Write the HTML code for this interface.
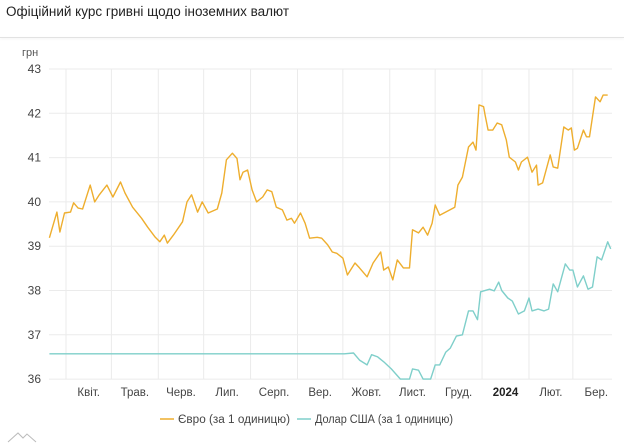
<!DOCTYPE html>
<html><head><meta charset="utf-8"><style>
body{margin:0;background:#fff;font-family:"Liberation Sans",sans-serif;}
#wrap{position:relative;width:624px;height:444px;overflow:hidden;}
#title{position:absolute;left:6px;top:4px;font-size:13.5px;color:#222;}
#sep{position:absolute;left:0;top:37px;width:624px;height:1px;background:#e2e2e2;box-shadow:0 1px 2px #eee;}
</style></head><body>
<div id="wrap">
<div id="title">Офіційний курс гривні щодо іноземних валют</div>
<div id="sep"></div>
<svg id="chart" width="624" height="444" style="position:absolute;left:0;top:0"></svg>
</div>
<script>
const yTicks=[36,37,38,39,40,41,42,43];
const monthLabels=["Квіт.","Трав.","Черв.","Лип.","Серп.","Вер.","Жовт.","Лист.","Груд.","2024","Лют.","Бер."];
const monthStarts=[0,30,61,91,122,153,183,214,244,275,306,335,366];
const eurDays=[-11,-6,-4,-1,3,5,8,11,16,19,22,27,31,36,39,44,50,54,59,62,65,67,71,77,80,83,87,90,94,100,103,106,110,113,115,117,120,123,126,130,133,136,139,143,146,149,151,155,158,161,166,169,173,176,179,183,186,191,194,199,203,208,210,213,216,219,223,227,229,233,236,239,242,244,247,257,259,262,266,269,271,273,276,277,279,282,285,288,291,293,297,299,301,305,308,311,312,315,320,322,325,329,332,334,336,338,342,344,346,350,353,355,358];
const eurValues=[39.19,39.77,39.32,39.75,39.77,39.98,39.86,39.84,40.38,40.0,40.16,40.38,40.11,40.45,40.2,39.88,39.63,39.43,39.2,39.1,39.25,39.07,39.25,39.55,40.0,40.16,39.77,40.0,39.75,39.84,40.2,40.95,41.1,40.98,40.5,40.67,40.72,40.27,40.0,40.11,40.27,40.23,39.88,39.82,39.59,39.63,39.52,39.75,39.52,39.18,39.2,39.18,39.03,38.87,38.84,38.73,38.35,38.62,38.51,38.31,38.62,38.87,38.46,38.53,38.24,38.69,38.51,38.51,39.37,39.3,39.43,39.25,39.52,39.93,39.7,39.88,40.38,40.56,41.24,41.35,41.17,42.19,42.15,41.96,41.62,41.62,41.78,41.74,41.4,41.01,40.9,40.72,40.9,41.01,40.67,40.83,40.38,40.43,41.06,40.79,40.76,41.69,41.62,41.67,41.17,41.21,41.62,41.47,41.47,42.37,42.26,42.41,42.41];
const usdDays=[-11,184,190,194,199,202,206,210,215,221,227,229,233,236,241,244,247,251,254,258,262,266,269,272,274,280,283,286,288,292,295,299,303,306,308,312,316,319,322,325,330,333,335,338,342,345,348,351,354,358,360];
const usdValues=[36.57,36.57,36.59,36.43,36.32,36.55,36.5,36.39,36.23,36.0,36.0,36.23,36.2,36.0,36.0,36.32,36.32,36.61,36.7,36.97,37.0,37.54,37.54,37.34,37.97,38.03,37.99,38.19,38.0,37.83,37.76,37.47,37.54,37.83,37.54,37.58,37.54,37.58,38.15,37.97,38.6,38.46,38.46,38.08,38.33,38.03,38.08,38.76,38.69,39.1,38.94];

const svg=document.getElementById('chart');
const NS='http://www.w3.org/2000/svg';
const x=d=>66+d*1.513;
const y=v=>69+(43-v)*44.3;
function mk(t,a){const e=document.createElementNS(NS,t);for(const k in a)e.setAttribute(k,a[k]);svg.appendChild(e);return e;}

const unit=mk('text',{x:22,y:56,'font-size':11,fill:'#555'});unit.textContent='грн';


yTicks.forEach(v=>{
  const g=mk('line',{x1:49,x2:612,y1:y(v),y2:y(v),stroke:'#ebebeb','stroke-width':1});
  
  
  const t=mk('text',{x:41,y:y(v)+4,'font-size':12,fill:'#444','text-anchor':'end'});t.textContent=v;
  
  
});
monthStarts.slice(0,12).forEach((d,i)=>{
  const g=mk('line',{x1:x(d),x2:x(d),y1:69,y2:379,stroke:'#ebebeb','stroke-width':1});
  
  
  const mid=(x(d)+x(monthStarts[i+1]))/2;
  const t=mk('text',{x:mid,y:396,'font-size':11.5,fill:'#444','text-anchor':'middle'});
  t.textContent=monthLabels[i];
  if(monthLabels[i]==='2024'){t.setAttribute('font-weight','bold');t.setAttribute('fill','#222');}
  
  
});
function line(days,vals,color,name){
  const p=days.map((d,i)=>(i?'L':'M')+x(d).toFixed(1)+','+y(vals[i]).toFixed(1)).join('');
  const e=mk('path',{d:p,fill:'none',stroke:color,'stroke-width':1.4,'stroke-linejoin':'round'});
  
  
}
line(usdDays,usdValues,'#7fcfca','usd-line');
line(eurDays,eurValues,'#eeae2e','eur-line');

const l1=mk('line',{x1:160,x2:174,y1:419,y2:419,stroke:'#eeae2e','stroke-width':1.5});


const t1=mk('text',{x:178,y:423,'font-size':11.5,fill:'#444',textLength:112,lengthAdjust:'spacingAndGlyphs'});t1.textContent='Євро (за 1 одиницю)';


const l2=mk('line',{x1:297,x2:311,y1:419,y2:419,stroke:'#7fcfca','stroke-width':1.5});


const t2=mk('text',{x:315,y:423,'font-size':11.5,fill:'#444',textLength:138,lengthAdjust:'spacingAndGlyphs'});t2.textContent='Долар США (за 1 одиницю)';


const logo=mk('path',{d:'M8,442 L18,433 L23,438 L27,434 L36,442',fill:'none',stroke:'#bbb','stroke-width':1});


</script>
</body></html>
